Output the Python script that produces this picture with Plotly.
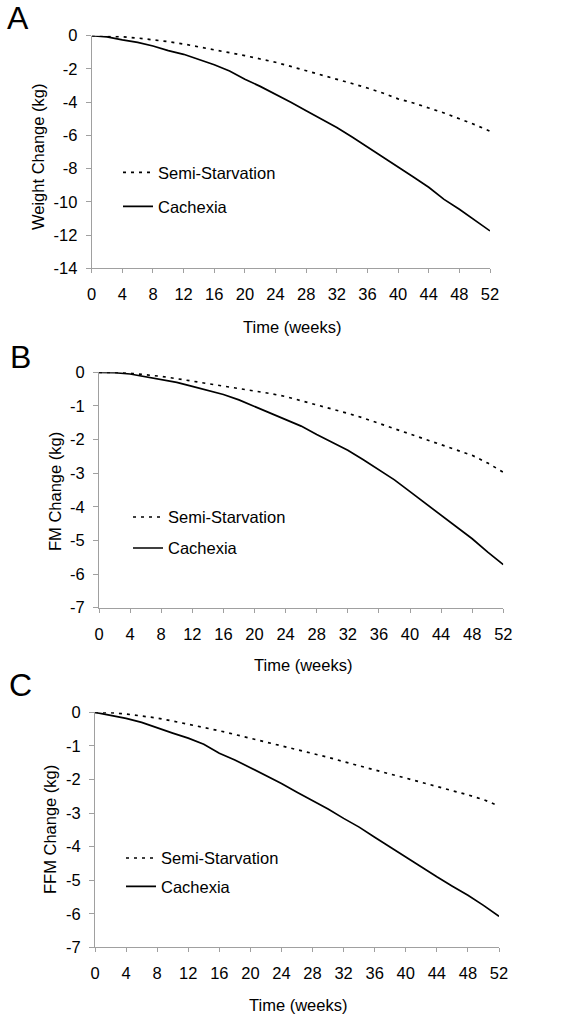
import plotly.graph_objects as go

W, H = 572, 1022

weeks = list(range(0, 53, 2))
x_ticks = list(range(0, 53, 4))

# Panel A: weight change (kg)
a_semi = [0, -0.02, -0.07, -0.14, -0.23, -0.36, -0.50, -0.67, -0.85, -1.02, -1.20, -1.40, -1.60,
          -1.85, -2.10, -2.35, -2.60, -2.88, -3.15, -3.45, -3.80, -4.05, -4.35, -4.65, -5.00, -5.35, -5.75]
a_cach = [0, -0.07, -0.25, -0.40, -0.62, -0.90, -1.12, -1.42, -1.75, -2.12, -2.62, -3.05, -3.50,
          -4.00, -4.52, -5.00, -5.52, -6.10, -6.70, -7.25, -7.90, -8.50, -9.12, -9.85, -10.45, -11.10, -11.75]

# Panel B: FM change (kg)
b_semi = [0, 0, -0.03, -0.07, -0.12, -0.19, -0.26, -0.33, -0.40, -0.47, -0.55, -0.63, -0.72,
          -0.84, -0.97, -1.09, -1.22, -1.36, -1.52, -1.66, -1.82, -1.98, -2.15, -2.30, -2.47, -2.70, -2.97]
b_cach = [0, -0.01, -0.05, -0.14, -0.22, -0.30, -0.42, -0.54, -0.66, -0.82, -1.02, -1.20, -1.40,
          -1.60, -1.85, -2.08, -2.32, -2.60, -2.90, -3.20, -3.55, -3.90, -4.25, -4.60, -4.95, -5.35, -5.72]

# Panel C: FFM change (kg)
c_semi = [0, -0.01, -0.05, -0.10, -0.17, -0.26, -0.35, -0.45, -0.55, -0.66, -0.77, -0.88, -0.99,
          -1.10, -1.22, -1.34, -1.47, -1.60, -1.72, -1.84, -1.96, -2.08, -2.21, -2.33, -2.46, -2.60, -2.79]
c_cach = [0, -0.08, -0.18, -0.30, -0.47, -0.62, -0.77, -0.95, -1.22, -1.42, -1.65, -1.88, -2.12,
          -2.38, -2.62, -2.88, -3.16, -3.42, -3.72, -4.02, -4.30, -4.60, -4.90, -5.18, -5.45, -5.75, -6.08]

a_yticks = [0, -2, -4, -6, -8, -10, -12, -14]
a_ylabels = ["0", "-2", "-4", "-6", "-8", "-10", "-12", "-14"]
bc_yticks = [0, -1, -2, -3, -4, -5, -6, -7]
bc_ylabels = ["0", "-1", "-2", "-3", "-4", "-5", "-6", "-7"]

series_names = ["Semi-Starvation", "Cachexia"]
panel_letters = ["A", "B", "C"]
y_titles = ["Weight Change (kg)", "FM Change (kg)", "FFM Change (kg)"]
x_title = "Time (weeks)"
y_ranges = [[-14, 0], [-7, 0], [-7, 0]]
y_tickvals = [a_yticks, bc_yticks, bc_yticks]
y_ticktext = [a_ylabels, bc_ylabels, bc_ylabels]

FONT = "Liberation Sans, Arial, sans-serif"
AX = "#a0a0a0"

# layout geometry in page pixels (left, right, top, bottom)
boxes = [(91.7, 490.0, 35.7, 268.3), (99.0, 503.3, 372.3, 607.7), (95.0, 499.0, 712.3, 947.3)]
legend_pos = [((158, 172.7), (158, 206.7)), ((168, 517.3), (168, 548.3)), ((161, 858.3), (161, 886.7))]
letter_pos = [(17.5, 18), (20, 357), (20, 685)]
ytitle_pos = [(38, 157), (55, 492), (50, 830)]
xtitle_pos = [(291.5, 327), (302.5, 665), (298, 1005)]

data = [(a_semi, a_cach), (b_semi, b_cach), (c_semi, c_cach)]


def px(x):
    return x / W


def py(y):
    return 1 - y / H


fig = go.Figure()
layout = dict(width=W, height=H, margin=dict(l=0, r=0, t=0, b=0, autoexpand=False),
              paper_bgcolor="white", plot_bgcolor="white",
              font=dict(family=FONT, size=16, color="black"),
              annotations=[])

for i in range(3):
    l, r, t, b = boxes[i]
    xn = "x" if i == 0 else f"x{i+1}"
    yn = "y" if i == 0 else f"y{i+1}"
    xk = "xaxis" if i == 0 else f"xaxis{i+1}"
    yk = "yaxis" if i == 0 else f"yaxis{i+1}"
    semi, cach = data[i]
    lg1 = "legend" if i == 0 else f"legend{2*i+1}"
    lg2 = f"legend{2*i+2}"
    fig.add_trace(go.Scatter(x=weeks, y=semi, mode="lines", name=series_names[0],
                             line=dict(color="black", width=1.7, dash="3px,5px"),
                             xaxis=xn, yaxis=yn, legend=lg1, showlegend=True))
    fig.add_trace(go.Scatter(x=weeks, y=cach, mode="lines", name=series_names[1],
                             line=dict(color="black", width=1.7),
                             xaxis=xn, yaxis=yn, legend=lg2, showlegend=True))
    layout[xk] = dict(domain=[px(l), px(r)], range=[0, 52], tickvals=x_ticks,
                      showline=True, linecolor=AX, linewidth=1, ticks="outside",
                      ticklen=4, tickcolor=AX, tickwidth=1, showgrid=False, zeroline=False,
                      anchor=yn, ticklabelstandoff=7,
                      tickfont=dict(size=16.5, family=FONT, color="black"), fixedrange=True)
    layout[yk] = dict(domain=[py(b), py(t)], range=y_ranges[i],
                      tickvals=y_tickvals[i], ticktext=y_ticktext[i],
                      showline=True, linecolor=AX, linewidth=1, ticks="outside",
                      ticklen=5, tickcolor=AX, tickwidth=1, showgrid=False, zeroline=False,
                      anchor=xn, ticklabelstandoff=5,
                      tickfont=dict(size=16.5, family=FONT, color="black"), fixedrange=True)
    # overlay axis for the inside half of the crossing x ticks
    ok = f"xaxis{i+4}"
    layout[ok] = dict(domain=[px(l), px(r)], range=[0, 52], tickvals=x_ticks,
                      overlaying=xn, anchor=yn, side="bottom", ticks="inside",
                      ticklen=4, tickcolor=AX, tickwidth=1, showticklabels=False,
                      showline=False, showgrid=False, zeroline=False, fixedrange=True)
    for j, (lx, ly) in enumerate(legend_pos[i]):
        key = lg1 if j == 0 else lg2
        layout[key] = dict(x=px(lx - 40), y=py(ly), xanchor="left", yanchor="middle",
                           bgcolor="rgba(0,0,0,0)", borderwidth=0,
                           font=dict(size=16.5, family=FONT, color="black"),
                           itemwidth=30, tracegroupgap=0)
    lxp, lyp = letter_pos[i]
    layout["annotations"].append(dict(text=panel_letters[i], x=px(lxp), y=py(lyp),
                                      xref="paper", yref="paper", showarrow=False,
                                      xanchor="center", yanchor="middle",
                                      font=dict(size=32, family=FONT, color="black")))
    tx, ty = ytitle_pos[i]
    layout["annotations"].append(dict(text=y_titles[i], x=px(tx), y=py(ty),
                                      xref="paper", yref="paper", showarrow=False,
                                      xanchor="center", yanchor="middle", textangle=-90,
                                      font=dict(size=16.5, family=FONT, color="black")))
    tx, ty = xtitle_pos[i]
    layout["annotations"].append(dict(text=x_title, x=px(tx), y=py(ty),
                                      xref="paper", yref="paper", showarrow=False,
                                      xanchor="center", yanchor="middle",
                                      font=dict(size=16.5, family=FONT, color="black")))

fig.update_layout(**layout)
fig.write_html("out.html", config={"displayModeBar": False},
               post_script="document.body.style.margin='0';document.body.style.overflow='hidden';")
